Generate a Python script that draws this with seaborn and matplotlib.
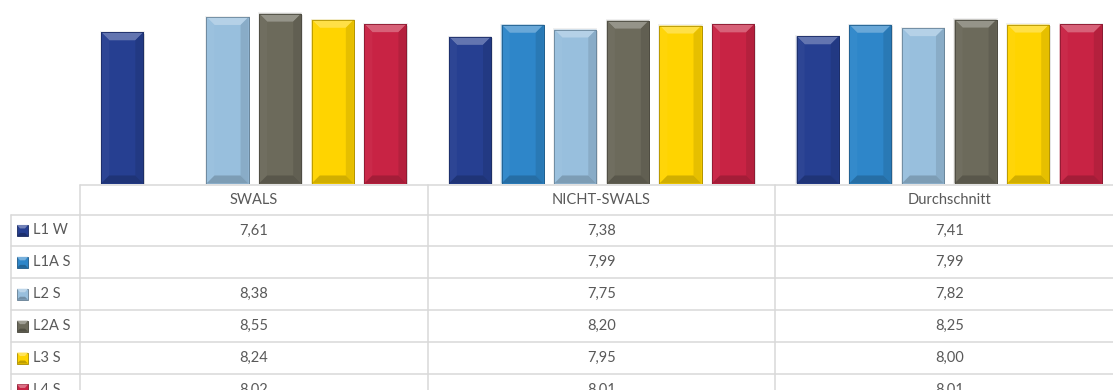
import numpy as np
import pandas as pd
import matplotlib
matplotlib.use("Agg")
import matplotlib.pyplot as plt
from matplotlib.patches import Polygon, Rectangle
from matplotlib.colors import to_rgb
import seaborn as sns

# ---- data -------------------------------------------------------------
groups = ["SWALS", "NICHT-SWALS", "Durchschnitt"]
series = ["L1 W", "L1A S", "L2 S", "L2A S", "L3 S", "L4 S"]
l1_w = [7.61, 7.38, 7.41]
l1a_s = [np.nan, 7.99, 7.99]
l2_s = [8.38, 7.75, 7.82]
l2a_s = [8.55, 8.20, 8.25]
l3_s = [8.24, 7.95, 8.00]
l4_s = [8.02, 8.01, 8.01]
colors = ["#263f91", "#2e86c9", "#98bfdd", "#6c6a5b", "#ffd400", "#c82344"]

values = {"L1 W": l1_w, "L1A S": l1a_s, "L2 S": l2_s,
          "L2A S": l2a_s, "L3 S": l3_s, "L4 S": l4_s}

rows = []
for s in series:
    for g, v in zip(groups, values[s]):
        rows.append({"Gruppe": g, "Serie": s, "Wert": v})
df = pd.DataFrame(rows)
df_bars = df.dropna()

# ---- figure geometry (pixels) ----------------------------------------
W, H = 1113, 390
DPI = 100
base_px = 183.5          # baseline of the bars
col_left = 80.0          # start of first category column
col_w = 347.7            # width of each category column
label_left = 10.7
header_top = 184.5
header_bot = 214.5
row_h = 31.9
text_color = "#595959"
grid_color = "#d9d9d9"

sns.set_theme(style="white")
plt.rcParams["font.family"] = ["Lato", "DejaVu Sans"]

fig = plt.figure(figsize=(W / DPI, H / DPI), dpi=DPI)
fig.patch.set_facecolor("white")

ax_w = 3 * col_w
ax = fig.add_axes([col_left / W, 1 - base_px / H, ax_w / W, base_px / H])

palette = dict(zip(series, colors))
sns.barplot(data=df_bars, x="Gruppe", y="Wert", hue="Serie",
            order=groups, hue_order=series, palette=palette,
            width=0.908, gap=0.2, saturation=1, legend=False,
            errorbar=None, ax=ax, zorder=3)

y_per_px = 1 / 19.87
ax.set_xlim(-0.5, 2.5)
ax.set_ylim(0, base_px * y_per_px)
ax.axis("off")

x_per_px = 3.0 / ax_w


def mix(c, other, t):
    c = np.array(to_rgb(c))
    o = np.array(to_rgb(other))
    return tuple(c * (1 - t) + o * t)


# bevelled look on every bar
face_to_color = {}
for s, c in zip(series, colors):
    face_to_color[tuple(np.round(to_rgb(c), 3))] = c

for p in list(ax.patches):
    x0, y0 = p.get_x(), p.get_y()
    w, h = p.get_width(), p.get_height()
    if not np.isfinite(h) or h <= 0:
        continue
    fc = p.get_facecolor()[:3]
    base = face_to_color.get(tuple(np.round(fc, 3)), fc)
    p.set_edgecolor(mix(base, "black", 0.3))
    p.set_linewidth(0.6)
    bx = 8 * x_per_px
    by = 8 * y_per_px
    x1, y1 = x0 + w, y0 + h
    # soft shadow
    ax.add_patch(Rectangle((x0 + 1.5 * x_per_px, y0 - 1.5 * y_per_px), w, h,
                           facecolor="#000000", alpha=0.10, lw=0, zorder=2))
    ax.add_patch(Rectangle((x0 - 1.2 * x_per_px, y0), w + 2.4 * x_per_px,
                           h + 1.2 * y_per_px,
                           facecolor="#000000", alpha=0.06, lw=0, zorder=2))
    # top facet
    ax.add_patch(Polygon([(x0, y1), (x1, y1), (x1 - bx, y1 - by), (x0 + bx, y1 - by)],
                         closed=True, facecolor=mix(base, "white", 0.28), lw=0, zorder=4))
    # left facet
    ax.add_patch(Polygon([(x0, y0), (x0, y1), (x0 + bx, y1 - by), (x0 + bx, y0 + by)],
                         closed=True, facecolor=mix(base, "white", 0.03), lw=0, zorder=4))
    # right facet
    ax.add_patch(Polygon([(x1, y0), (x1, y1), (x1 - bx, y1 - by), (x1 - bx, y0 + by)],
                         closed=True, facecolor=mix(base, "black", 0.10), lw=0, zorder=4))
    # bottom facet
    ax.add_patch(Polygon([(x0, y0), (x1, y0), (x1 - bx, y0 + by), (x0 + bx, y0 + by)],
                         closed=True, facecolor=mix(base, "black", 0.18), lw=0, zorder=4))
    # outline on top
    ax.add_patch(Rectangle((x0, y0), w, h, facecolor="none",
                           edgecolor=mix(base, "black", 0.3), lw=0.6, zorder=5))

# ---- data table below the bars ---------------------------------------
tab = fig.add_axes([0, 0, 1, 1], zorder=-1)
tab.set_xlim(0, W)
tab.set_ylim(H, 0)
tab.axis("off")

lw = 1.1
right = W + 20
n_rows = len(series)
row_lines = [header_bot + i * row_h for i in range(n_rows + 1)]

# horizontal rules
tab.plot([col_left, right], [header_top, header_top], color=grid_color, lw=lw)
for y in row_lines:
    tab.plot([label_left, right], [y, y], color=grid_color, lw=lw)
# vertical rules
tab.plot([label_left, label_left], [header_bot, H + 10], color=grid_color, lw=lw)
for i in range(3):
    xv = col_left + i * col_w
    tab.plot([xv, xv], [header_top, H + 10], color=grid_color, lw=lw)

fs = 10.5
for i, g in enumerate(groups):
    cx = col_left + (i + 0.5) * col_w
    tab.text(cx, (header_top + header_bot) / 2, g, ha="center", va="center",
             fontsize=fs, color=text_color)

for r, s in enumerate(series):
    cy = header_bot + (r + 0.5) * row_h
    c = colors[r]
    # legend key
    kx, ks = 17.0, 11.0
    ky = cy - ks / 2
    tab.add_patch(Rectangle((kx, ky), ks, ks, facecolor=c,
                            edgecolor=mix(c, "black", 0.35), lw=0.6))
    tab.add_patch(Polygon([(kx, ky), (kx + ks, ky), (kx + ks - 3, ky + 3.5), (kx + 3, ky + 3.5)],
                          closed=True, facecolor=mix(c, "white", 0.35), lw=0))
    tab.add_patch(Polygon([(kx + 3, ky + ks - 3), (kx + ks - 3, ky + ks - 3),
                           (kx + ks, ky + ks), (kx, ky + ks)],
                          closed=True, facecolor=mix(c, "black", 0.25), lw=0))
    tab.text(33, cy, s, ha="left", va="center", fontsize=fs, color=text_color)
    for i, v in enumerate(values[s]):
        if np.isfinite(v):
            cx = col_left + (i + 0.5) * col_w
            tab.text(cx, cy, f"{v:.2f}".replace(".", ","), ha="center",
                     va="center", fontsize=fs, color=text_color)

fig.savefig("out.png", dpi=DPI, facecolor="white")
